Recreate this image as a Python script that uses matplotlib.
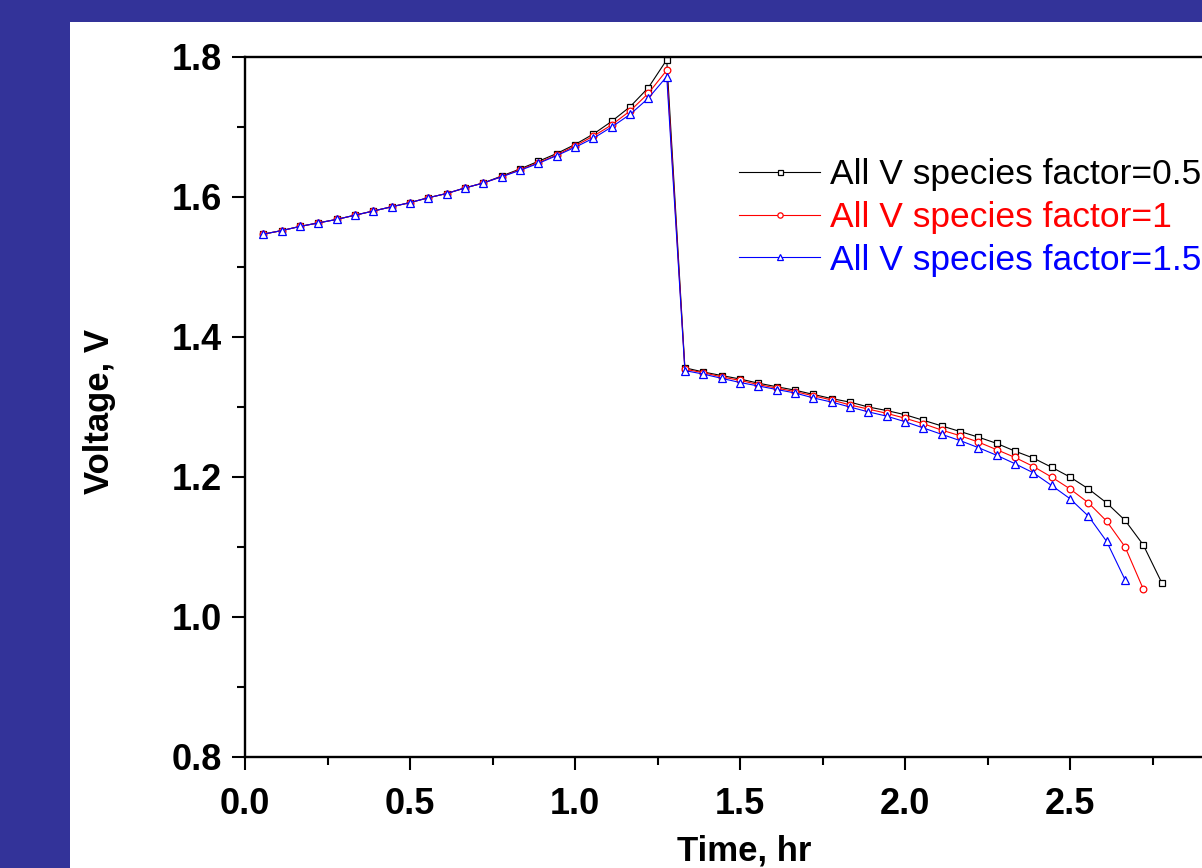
import numpy as np
import matplotlib
matplotlib.use('Agg')
import matplotlib.pyplot as plt
from matplotlib.patches import Rectangle
from matplotlib.ticker import MultipleLocator, FuncFormatter

plt.rcParams['font.family'] = ['Liberation Sans', 'DejaVu Sans']

# time, hr (one point every 200 s)
time_hr = [0.056, 0.111, 0.167, 0.222, 0.278, 0.333, 0.389, 0.444, 0.500, 0.556,
           0.611, 0.667, 0.722, 0.778, 0.833, 0.889, 0.944, 1.000, 1.056, 1.111,
           1.167, 1.222, 1.278, 1.333, 1.389, 1.444, 1.500, 1.556, 1.611, 1.667,
           1.722, 1.778, 1.833, 1.889, 1.944, 2.000, 2.056, 2.111, 2.167, 2.222,
           2.278, 2.333, 2.389, 2.444, 2.500, 2.556, 2.611, 2.667, 2.722, 2.778]

# voltage, V
v_factor_05 = [1.547, 1.552, 1.558, 1.563, 1.568, 1.574, 1.580, 1.586, 1.592, 1.599,
               1.605, 1.613, 1.620, 1.630, 1.640, 1.651, 1.662, 1.675, 1.690, 1.708,
               1.729, 1.756, 1.796,
               1.356, 1.350, 1.345, 1.340, 1.334, 1.329, 1.324, 1.318, 1.312, 1.307,
               1.300, 1.295, 1.289, 1.281, 1.273, 1.265, 1.257, 1.248, 1.237, 1.227,
               1.214, 1.200, 1.183, 1.163, 1.138, 1.103, 1.049]
v_factor_1 = [1.547, 1.552, 1.558, 1.563, 1.568, 1.574, 1.580, 1.586, 1.592, 1.599,
              1.605, 1.613, 1.620, 1.629, 1.639, 1.649, 1.660, 1.673, 1.687, 1.703,
              1.723, 1.748, 1.781,
              1.354, 1.349, 1.343, 1.338, 1.332, 1.327, 1.322, 1.316, 1.310, 1.303,
              1.297, 1.291, 1.284, 1.276, 1.267, 1.259, 1.250, 1.239, 1.228, 1.215,
              1.200, 1.183, 1.163, 1.137, 1.100, 1.040]
v_factor_15 = [1.547, 1.552, 1.558, 1.563, 1.568, 1.574, 1.580, 1.586, 1.592, 1.599,
               1.605, 1.613, 1.620, 1.629, 1.638, 1.648, 1.659, 1.671, 1.684, 1.700,
               1.718, 1.741, 1.772,
               1.352, 1.347, 1.341, 1.335, 1.330, 1.325, 1.320, 1.313, 1.307, 1.300,
               1.293, 1.287, 1.279, 1.270, 1.261, 1.252, 1.242, 1.231, 1.219, 1.206,
               1.188, 1.169, 1.144, 1.108, 1.053]

labels = ['All V species factor=0.5', 'All V species factor=1', 'All V species factor=1.5']

W, H = 1202, 868
fig = plt.figure(figsize=(W / 100, H / 100), dpi=100, facecolor='#333399')
# white slide area
fig.patches.append(Rectangle((70 / W, 0), 1 - 70 / W, (H - 22) / H,
                             transform=fig.transFigure, facecolor='white',
                             edgecolor='none', zorder=-10))

ax = fig.add_axes([245 / W, (H - 757) / H, 990 / W, 700 / H])
ax.set_facecolor('white')
ax.set_zorder(5)

ax.plot(time_hr[:len(v_factor_05)], v_factor_05, color='black', lw=0.8,
        marker='s', ms=4.5, mfc='white', mec='black', mew=0.9, label=labels[0])
ax.plot(time_hr[:len(v_factor_1)], v_factor_1, color='red', lw=0.8,
        marker='o', ms=4.8, mfc='white', mec='red', mew=0.9, label=labels[1])
ax.plot(time_hr[:len(v_factor_15)], v_factor_15, color='blue', lw=0.8,
        marker='^', ms=5.5, mfc='white', mec='blue', mew=0.9, label=labels[2])

ax.set_xlim(0, 3.0)
ax.set_ylim(0.8, 1.8)
ax.xaxis.set_major_locator(MultipleLocator(0.5))
ax.xaxis.set_minor_locator(MultipleLocator(0.25))
ax.yaxis.set_major_locator(MultipleLocator(0.2))
ax.yaxis.set_minor_locator(MultipleLocator(0.1))
# the 3.0 label lies outside the visible slide area
ax.xaxis.set_major_formatter(FuncFormatter(lambda v, p: '' if v > 2.9 else '%.1f' % v))
ax.yaxis.set_major_formatter(FuncFormatter(lambda v, p: '%.1f' % v))

for s in ax.spines.values():
    s.set_linewidth(1.7)
ax.tick_params(which='major', direction='out', length=9.5, width=1.5,
               labelsize=26, top=False, right=False)
ax.tick_params(which='minor', direction='out', length=5.5, width=1.5,
               top=False, right=False)
ax.tick_params(axis='x', which='major', pad=12)
ax.tick_params(axis='y', which='major', pad=7)
for lab in ax.get_xticklabels() + ax.get_yticklabels():
    lab.set_fontweight('bold')

ax.set_xlabel('Time, hr', fontsize=25, fontweight='bold')
ax.xaxis.set_label_coords((744 - 245) / 990, (757 - 834) / 700)
ax.set_ylabel('Voltage, V', fontsize=25, fontweight='bold')
ax.yaxis.set_label_coords((116 - 245) / 990, (757 - 411) / 700)

leg = ax.legend(loc='upper left', bbox_to_anchor=(739 / W, (H - 158) / H),
                bbox_transform=fig.transFigure, frameon=False, fontsize=25.5,
                borderpad=0, borderaxespad=0, handlelength=2.29, markerscale=0.8,
                handletextpad=0.28, labelspacing=0.28)
for txt, c in zip(leg.get_texts(), ['black', 'red', 'blue']):
    txt.set_color(c)

fig.savefig('out.png', dpi=100, facecolor=fig.get_facecolor())
